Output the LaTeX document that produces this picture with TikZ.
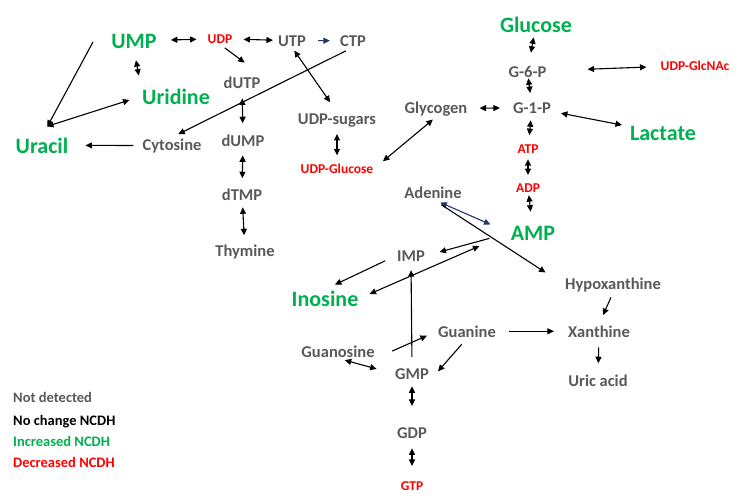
\documentclass[tikz,border=0pt]{standalone}
\usepackage{fontspec}
\setmainfont{Carlito}
\usetikzlibrary{arrows.meta}
\definecolor{ndgray}{HTML}{595959}
\definecolor{upgreen}{HTML}{00B050}
\definecolor{downred}{HTML}{FF0000}
\definecolor{navyblue}{HTML}{1F3864}
\tikzset{
  nodet/.style={inner sep=1pt, anchor=base, text=ndgray, font=\fontsize{16.5}{18}\selectfont\bfseries},
  incr/.style={inner sep=1pt, anchor=base, text=upgreen, font=\fontsize{22}{24}\selectfont\bfseries},
  decr/.style={inner sep=1pt, anchor=base, text=downred, font=\fontsize{13.5}{15}\selectfont\bfseries},
  keyline/.style={inner sep=0pt, anchor=base west, font=\fontsize{14.5}{16}\selectfont\bfseries},
  lnk/.style={line width=1.1pt, -{Triangle[length=6.5pt,width=6pt]}},
  bi/.style={line width=1.1pt, {Triangle[length=6.5pt,width=6pt]}-{Triangle[length=6.5pt,width=6pt]}}
}
\begin{document}
\begin{tikzpicture}[x=1pt, y=-1pt]
		\useasboundingbox (0,0) rectangle (741,501);
		
		%%%%% pyrimidines %%%%%
		\node[incr] (UMP) at (134,48) {UMP};
		\node[decr] (UDP) at (220,43) {UDP};
		\node[nodet] (UTP) at (292,46) {UTP};
		\node[nodet] (CTP) at (353,46) {CTP};
		\node[nodet] (dUTP) at (242,88) {dUTP};
		\node[incr] (Uridine) at (176,104) {Uridine};
		\node[incr] (Uracil) at (42,153) {Uracil};
		\node[nodet] (Cytosine) at (172,150) {Cytosine};
		\node[nodet] (dUMP) at (243,146) {dUMP};
		\node[nodet] (UDPsug) at (337,124) {UDP-sugars};
		\node[decr] (UDPGlc) at (337,173) {UDP-Glucose};
		\node[nodet] (dTMP) at (242,200) {dTMP};
		\node[nodet] (Thymine) at (245,256) {Thymine};
		\coordinate (umptail) at (93,42);
		
		\draw[bi, shorten <=13pt, shorten >=10pt] (UMP) -- (UDP);
		\draw[bi, shorten <=10pt, shorten >=4pt] (UDP) -- (UTP);
		\draw[lnk, navyblue, shorten <=11pt, shorten >=9pt] (UTP) -- (CTP);
		\draw[bi, shorten <=11pt, shorten >=12pt] (UMP.south) -- (Uridine.north west);
		\draw[lnk, shorten >=11pt] (umptail) -- (Uracil.north);
		\draw[bi, shorten >=12pt] ([shift={(5pt,10pt)}]Uracil.north) -- (Uridine.west);
		\draw[lnk, shorten <=8pt, shorten >=16pt] (Cytosine) -- (Uracil);
		\draw[lnk, shorten <=8pt, shorten >=7pt] (CTP.south) -- (Cytosine.north);
		\draw[lnk, shorten <=6pt, shorten >=21pt] (UDP.south) -- (dUTP.north east);
		\draw[bi, shorten <=9pt, shorten >=10pt] (dUTP) -- (dUMP);
		\draw[bi, shorten <=8pt, shorten >=9pt] (dUMP) -- (dTMP);
		\draw[bi, shorten <=6pt, shorten >=8pt] (dTMP) -- (Thymine);
		\draw[bi, shorten <=4pt, shorten >=12pt] (UTP.south) -- (UDPsug.north);
		\draw[bi, shorten <=6pt, shorten >=7pt] (UDPsug) -- (UDPGlc);
		
		%%%%% sugars and adenylates %%%%%
		\node[incr] (Glucose) at (536,32) {Glucose};
		\node[nodet] (G6P) at (527.5,77) {G-6-P};
		\node[decr] (GlcNAc) at (695,70) {UDP-GlcNAc};
		\node[nodet] (Glycogen) at (436,113) {Glycogen};
		\node[nodet] (G1P) at (532,113) {G-1-P};
		\node[incr] (Lactate) at (663,140) {Lactate};
		\node[decr] (ATP) at (528,153) {ATP};
		\node[decr] (ADP) at (528,192) {ADP};
		\node[nodet] (Adenine) at (433,198) {Adenine};
		\node[incr] (AMP) at (533,240) {AMP};
		
		\draw[bi, shorten <=4pt, shorten >=12pt] (Glucose) -- (G6P);
		\draw[bi, shorten >=8pt] (G6P) -- (G1P);
		\draw[bi, shorten <=40pt, shorten >=13pt] (G6P) -- (GlcNAc);
		\draw[bi, shorten <=11pt, shorten >=12pt] (Glycogen) -- (G1P);
		\draw[bi, shorten <=9pt, shorten >=7pt] (G1P) -- (Lactate);
		\draw[bi, shorten <=6pt, shorten >=8pt] (G1P) -- (ATP);
		\draw[bi, shorten <=5pt, shorten >=7pt] (ATP) -- (ADP);
		\draw[bi, shorten <=2pt, shorten >=13pt] (ADP) -- (AMP);
		\draw[bi, shorten <=4pt, shorten >=11pt] (Glycogen.south) -- (UDPGlc.east);
		\draw[bi, navyblue, shorten <=8pt, shorten >=21pt] (Adenine.south) -- (AMP.west);
		
		%%%%% purines %%%%%
		\node[nodet] (IMP) at (411,261) {IMP};
		\node[incr] (Inosine) at (325,306) {Inosine};
		\node[nodet] (Hypox) at (613,289) {Hypoxanthine};
		\node[nodet] (Guanine) at (467,337) {Guanine};
		\node[nodet] (Xanthine) at (599,337) {Xanthine};
		\node[nodet] (Guanosine) at (338,357) {Guanosine};
		\node[nodet] (GMP) at (412,379) {GMP};
		\node[nodet] (Uric) at (598,386) {Uric acid};
		\node[nodet] (GDP) at (412,438) {GDP};
		\node[decr] (GTP) at (412,490) {GTP};
		
		\draw[lnk, shorten <=10pt, shorten >=22pt] (Adenine.south) -- (Hypox.west);
		\draw[lnk, shorten <=21pt, shorten >=14pt] (AMP.west) -- (IMP.east);
		\draw[bi, shorten <=11pt, shorten >=33pt] (Inosine.east) -- (AMP.west);
		\draw[lnk, shorten <=12pt, shorten >=11pt] (IMP.west) -- (Inosine.north);
		\draw[lnk, shorten <=10pt, shorten >=8pt] (GMP.north) -- (IMP.south);
		\draw[lnk, shorten <=18pt, shorten >=11pt] (Guanosine.south east) -- (Guanine.west);
		\draw[lnk, shorten <=8pt, shorten >=12pt] (Guanine.south) -- (GMP.south east);
		\draw[bi, shorten <=7pt, shorten >=18pt] (Guanosine.south) -- (GMP.west);
		\draw[lnk, shorten <=12pt, shorten >=13pt] (Guanine) -- (Xanthine);
		\draw[lnk, shorten <=5pt, shorten >=10pt] (Hypox.south) -- (Xanthine.north);
		\draw[lnk, shorten <=9pt, shorten >=10pt] (Xanthine) -- (Uric);
		\draw[bi, shorten <=6pt, shorten >=20pt] (GMP) -- (GDP);
		\draw[bi, shorten <=9pt, shorten >=14pt] (GDP) -- (GTP);
		
		%%%%% key %%%%%
		\node[keyline, text=ndgray] (kNot) at (13,402) {Not detected};
		\node[keyline, text=black] (kNo) at (13,425) {No change NCDH};
		\node[keyline, text=upgreen] (kUp) at (13,446) {Increased NCDH};
		\node[keyline, text=downred] (kDown) at (13,467) {Decreased NCDH};
		
	\end{tikzpicture}
\end{document}
